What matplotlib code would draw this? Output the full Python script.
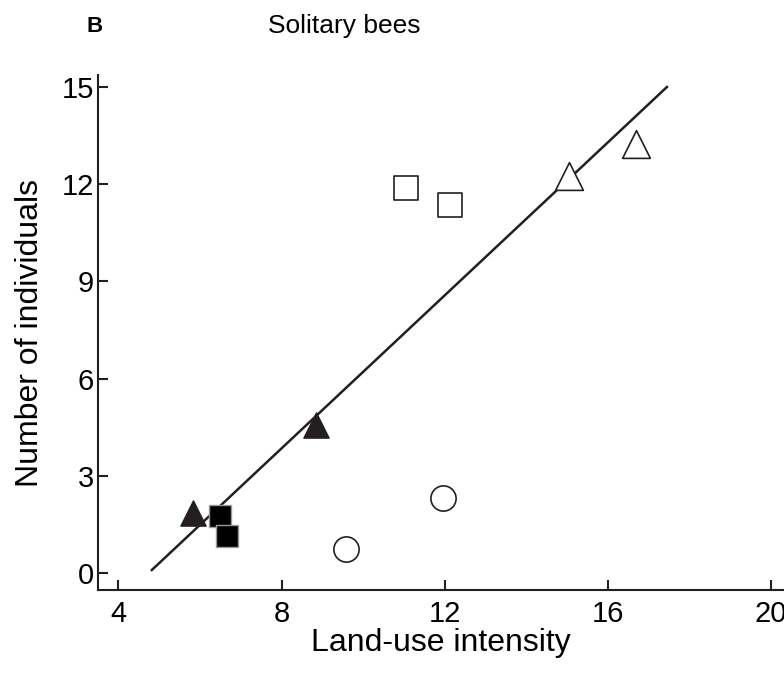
import numpy as np
import matplotlib.pyplot as plt

plt.rcParams['font.family'] = ['Liberation Sans', 'DejaVu Sans']

# land-use intensity / number of individuals per group
tri_fill_x = [5.82, 8.85]
tri_fill_y = [1.85, 4.57]
sq_fill_x = [6.49, 6.66]
sq_fill_y = [1.76, 1.14]
circ_open_x = [9.59, 11.96]
circ_open_y = [0.74, 2.31]
sq_open_x = [11.04, 12.13]
sq_open_y = [11.88, 11.36]
tri_open_x = [15.06, 16.68]
tri_open_y = [12.25, 13.24]

# regression line
fit_slope = 1.18
fit_intercept = -5.59
fit_range = [4.82, 17.45]

ink = '#231f20'

fig = plt.figure(figsize=(7.84, 6.74), dpi=100)
ax = fig.add_axes([0.125, 0.1246, 0.875, 0.7641])

xf = np.array(fit_range)
ax.plot(xf, fit_intercept + fit_slope * xf, color=ink, lw=1.8, zorder=1)

ax.scatter(tri_fill_x, tri_fill_y, marker='^', s=330, c=ink, edgecolors=ink, zorder=3)
ax.scatter(sq_fill_x, sq_fill_y, marker='s', s=230, c='black', edgecolors='#999999', lw=1, zorder=3)
ax.scatter(circ_open_x, circ_open_y, marker='o', s=330, facecolors='white', edgecolors=ink, lw=1.2, zorder=3)
ax.scatter(sq_open_x, sq_open_y, marker='s', s=300, facecolors='white', edgecolors=ink, lw=1.2, zorder=3)
ax.scatter(tri_open_x, tri_open_y, marker='^', s=400, facecolors='white', edgecolors=ink, lw=1.2, zorder=3)

ax.set_xlim(3.5, 20.32)
ax.set_ylim(-0.52, 15.37)
ax.set_xticks([4, 8, 12, 16, 20])
ax.set_yticks([0, 3, 6, 9, 12, 15])
ax.tick_params(direction='in', length=7, width=1.5, labelsize=21, color=ink)
ax.tick_params(axis='x', pad=7)
ax.tick_params(axis='y', pad=3)
for s in ['top', 'right']:
    ax.spines[s].set_visible(False)
for s in ['left', 'bottom']:
    ax.spines[s].set_linewidth(1.5)
    ax.spines[s].set_color(ink)

ax.set_xlabel('Land-use intensity', fontsize=23, labelpad=0)
ax.set_ylabel('Number of individuals', fontsize=23, labelpad=12)

fig.text(95 / 784, 1 - 27 / 674, 'B', fontsize=16, fontweight='bold', ha='center', va='center')
fig.text(268 / 784, 1 - 26 / 674, 'Solitary bees', fontsize=19, ha='left', va='center')

fig.savefig('out.png', dpi=100)
